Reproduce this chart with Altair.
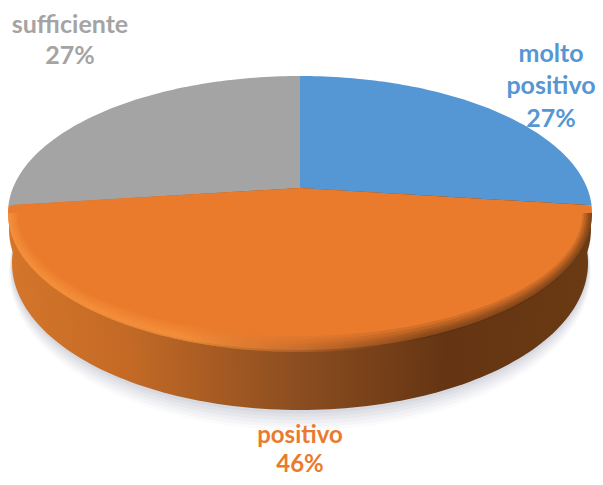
import math
import altair as alt

names = ["molto positivo", "positivo", "sufficiente"]
shares = [27, 46, 27]
colors = ["#5596d4", "#ea7b2d", "#a4a4a4"]

# page-to-plot offset and the tilted disc's geometry (plot pixels)
OFF = 8
CX, CY, RX, RY = 300 - OFF, 213 - OFF, 292, 137
APEX_Y = 188 - OFF
BOT_Y, BOT_RY, BOT_RX = 263 - OFF, 147, 288


def ellipse(cx, cy, rx, ry, n=240):
    return [[cx + rx * math.cos(2 * math.pi * i / n), cy + ry * math.sin(2 * math.pi * i / n)] for i in range(n + 1)]


def lower_arc(cx, cy, rx, ry, n=120):
    return [[cx + rx * math.cos(math.pi * i / n), cy + ry * math.sin(math.pi * i / n)] for i in range(n + 1)]


def ray_hit(theta):
    """Point of the rim seen along a pie angle, from the perspective apex."""
    k = RY / RX
    dx, dy = math.sin(theta), -math.cos(theta) * k
    ox, oy = 0.0, APEX_Y - CY
    a = (dx / RX) ** 2 + (dy / RY) ** 2
    b = 2 * (ox * dx / RX ** 2 + oy * dy / RY ** 2)
    c = (ox / RX) ** 2 + (oy / RY) ** 2 - 1
    t = (-b + math.sqrt(b * b - 4 * a * c)) / (2 * a)
    return [CX + t * dx, APEX_Y + t * dy]


def slice_poly(start, end):
    a0, a1 = start * 2 * math.pi / 100, end * 2 * math.pi / 100
    n = max(4, int(end - start) * 3)
    return [[CX, APEX_Y]] + [ray_hit(a0 + (a1 - a0) * i / n) for i in range(n + 1)] + [[CX, APEX_Y]]


def shape(points, **mark):
    feature = {"type": "Feature", "properties": {}, "geometry": {"type": "Polygon", "coordinates": [points]}}
    return alt.Chart(alt.Data(values=[feature])).mark_geoshape(strokeWidth=0, **mark).project(
        type="identity", scale=1, translate=[0, 0]
    )


def hgrad(*stops):
    return alt.Gradient(
        gradient="linear", x1=0, x2=1, y1=0, y2=0,
        stops=[alt.GradientStop(offset=o, color=c) for o, c in stops],
    )


layers = []

# soft shadow under the disc
for grow, op in [(12, 0.04), (10, 0.05), (8, 0.06), (6, 0.07), (4, 0.08), (2, 0.10)]:
    layers.append(shape(ellipse(CX, BOT_Y + grow * 0.8, BOT_RX + grow * 0.25, BOT_RY + grow * 0.9),
                        fill="#8d93a6", opacity=op))

# wall
wall_fill = hgrad((0, "#d4752a"), (0.2, "#c46a26"), (0.5, "#8b4d20"), (0.75, "#653513"), (1, "#6a3a14"))
layers.append(shape(ellipse(CX, BOT_Y, BOT_RX, BOT_RY), fill=wall_fill))
layers.append(shape(ellipse(CX, CY + 16, RX - 1, RY + 8), fill=wall_fill))

# the three slices, clockwise from twelve o'clock (orange drawn last, it overlaps the rim)
start = 0
order = []
for name, share, col in zip(names, shares, colors):
    order.append((name, slice_poly(start, start + share), col))
    start += share
for name, poly, col in order:
    if name != "positivo":
        layers.append(shape(poly, fill=col))
for name, poly, col in order:
    if name == "positivo":
        layers.append(shape(poly, fill=col))

# bevel: soft crescents along the lower rim, light on the left, dark on the right
for inset in [16, 13, 10, 8, 6, 4, 2]:
    outer = lower_arc(CX, CY, RX, RY + 2)
    inner = lower_arc(CX, CY, RX - inset * 0.6, RY + 2 - inset)[::-1]
    layers.append(shape(outer + inner + [outer[0]],
                        fill=hgrad((0, "#f8963f"), (0.3, "#f8963f"), (0.5, "#b8662a"),
                                   (0.72, "#5a3010"), (1, "#5a3010")),
                        opacity=0.17))

# labels: one row per text line
label_rows = [
    ("sufficiente", 70, 25, colors[2], 25), ("27%", 70, 56, colors[2], 25),
    ("molto", 551, 54, colors[0], 25), ("positivo", 551, 86, colors[0], 25), ("27%", 551, 119, colors[0], 25),
    ("positivo", 300, 436, colors[1], 24), ("46%", 300, 465, colors[1], 24),
]
for text, x, y, col, size in label_rows:
    layers.append(
        alt.Chart(alt.Data(values=[{"t": text}])).mark_text(
            font="Lato", fontWeight="bold", fontSize=size, color=col, align="center", baseline="middle"
        ).encode(text="t:N", x=alt.value(x - OFF), y=alt.value(y - OFF))
    )

chart = alt.layer(*layers).properties(
    width=587, height=469, padding=0, autosize=alt.AutoSizeParams(type="none")
).configure_view(stroke=None)
chart.save("out.html", embed_options={"renderer": "svg", "actions": False})
